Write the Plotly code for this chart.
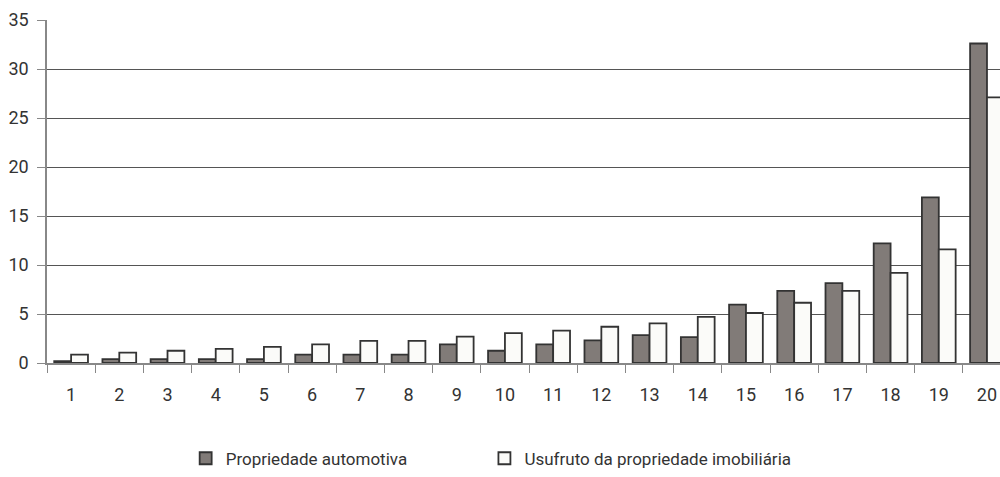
import plotly.graph_objects as go

categories = [str(i) for i in range(1, 21)]
propriedade_automotiva = [0.2, 0.4, 0.4, 0.4, 0.4, 0.85, 0.85, 0.85, 1.9, 1.25,
                          1.9, 2.3, 2.85, 2.65, 5.95, 7.35, 8.15, 12.2, 16.9, 32.6]
usufruto_imobiliaria = [0.85, 1.05, 1.25, 1.45, 1.65, 1.9, 2.25, 2.25, 2.7, 3.05,
                        3.3, 3.7, 4.05, 4.7, 5.1, 6.15, 7.35, 9.2, 11.6, 27.1]
y_ticks = [0, 5, 10, 15, 20, 25, 30, 35]

FONT = "Roboto, Liberation Sans, sans-serif"

fig = go.Figure()
fig.add_trace(go.Bar(
    x=categories, y=propriedade_automotiva, name="Propriedade automotiva",
    marker=dict(color="#817b78", line=dict(color="#333333", width=1.8)),
    legend="legend", showlegend=True,
))
fig.add_trace(go.Bar(
    x=categories, y=usufruto_imobiliaria, name="Usufruto da propriedade imobiliária",
    marker=dict(color="#fbfbf9", line=dict(color="#333333", width=1.8)),
    legend="legend2", showlegend=True,
))

legend_common = dict(
    orientation="h", xanchor="left", y=-0.279, yanchor="middle",
    font=dict(family=FONT, size=17, color="#333333"),
    bgcolor="rgba(0,0,0,0)",
)

fig.update_layout(
    width=1000, height=477,
    showlegend=True,
    margin=dict(l=47, r=0, t=20, b=109),
    paper_bgcolor="white", plot_bgcolor="white",
    barmode="group", bargap=0.3, bargroupgap=0,
    font=dict(family=FONT, size=18, color="#333333"),
    legend=dict(x=0.1455, **legend_common),
    legend2=dict(x=0.459, **legend_common),
    xaxis=dict(
        type="category", range=[-0.5, 19.27], automargin=False,
        tickson="boundaries", ticks="outside", ticklen=8, tickcolor="#888888",
        showline=True, linecolor="#888888", linewidth=1.5,
        showgrid=False, ticklabelstandoff=15,
        tickfont=dict(family=FONT, size=18, color="#333333"),
    ),
    yaxis=dict(
        range=[0, 35], tickvals=y_ticks, automargin=False,
        showgrid=True, gridcolor="#555555", gridwidth=1,
        showline=True, linecolor="#888888", linewidth=1.5,
        ticks="outside", ticklen=8, tickcolor="#888888",
        zeroline=False, ticklabelstandoff=5,
        tickfont=dict(family=FONT, size=18, color="#333333"),
    ),
)

fig.write_html(
    "out.html",
    config={"displayModeBar": False},
    post_script="document.body.style.margin='0';document.body.style.overflow='hidden';",
)
